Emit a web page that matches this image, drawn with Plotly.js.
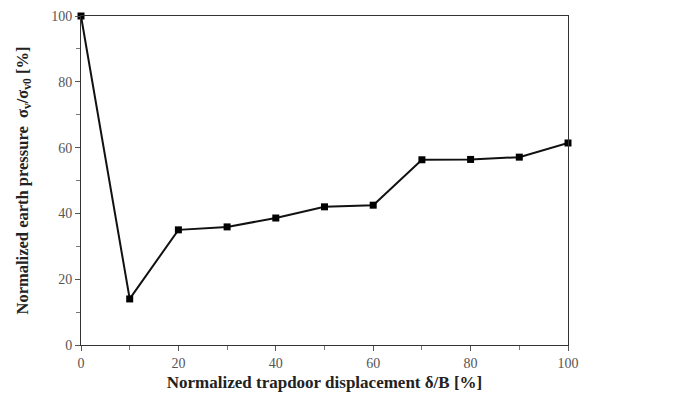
<!DOCTYPE html>
<html><head><meta charset="utf-8">
<script src="https://cdn.plot.ly/plotly-3.0.1.min.js"></script>
<style>html,body{margin:0;padding:0;background:#fff}#c{width:679px;height:405px}</style>
</head><body><div id="c"></div>
<script>
const displacement = [0, 10, 20, 30, 40, 50, 60, 70, 80, 90, 100];
const pressure = [100, 14, 35, 35.9, 38.6, 42, 42.5, 56.3, 56.4, 57.1, 61.4];
const xTicks = [0, 20, 40, 60, 80, 100];
const yTicks = [0, 20, 40, 60, 80, 100];

const trace = {
  x: displacement, y: pressure, mode: 'lines+markers', type: 'scatter',
  cliponaxis: false,
  line: {color: '#111', width: 2},
  marker: {symbol: 'square', size: 7, color: '#000'}
};
const axisCommon = {
  showgrid: false, zeroline: false, showline: true, linecolor: '#333', linewidth: 1,
  mirror: true, ticks: 'outside', ticklen: 5, tickcolor: '#555', tickwidth: 1,
  tickfont: {family: 'Liberation Serif', size: 14, color: '#555'},
  minor: {ticks: 'outside', ticklen: 4, tickcolor: '#777', dtick: 10}
};
const layout = {
  width: 679, height: 405,
  margin: {l: 81, r: 111, t: 16, b: 60},
  paper_bgcolor: '#fff', plot_bgcolor: '#fff',
  showlegend: false,
  xaxis: Object.assign({}, axisCommon, {
    range: [0, 100], tickvals: xTicks, ticktext: xTicks.map(String),
    title: {text: 'Normalized trapdoor displacement δ/B [%]', standoff: 6,
      font: {family: 'Liberation Serif', size: 17, color: '#222', weight: 'bold'}}
  }),
  yaxis: Object.assign({}, axisCommon, {
    range: [0, 100], tickvals: yTicks, ticktext: yTicks.map(String),
    title: {text: 'Normalized earth pressure  σ<sub>v</sub>/σ<sub>v0</sub> [%]', standoff: 18,
      font: {family: 'Liberation Serif', size: 16.5, color: '#222', weight: 'bold'}}
  })
};
Plotly.newPlot('c', [trace], layout, {displayModeBar: false, staticPlot: true});
</script></body></html>
